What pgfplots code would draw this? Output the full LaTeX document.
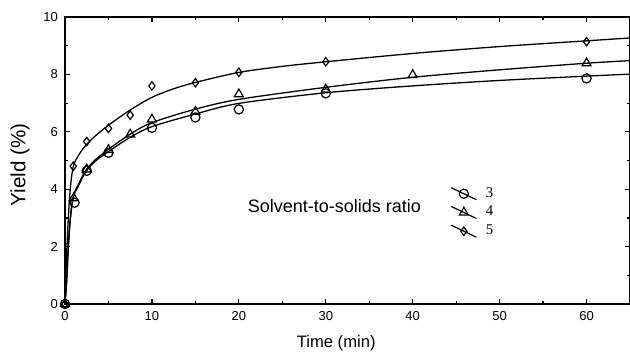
\documentclass[border=0pt]{standalone}
\usepackage{fontspec}
\setmainfont{Liberation Sans}
\newfontfamily\serifnum{Liberation Serif}
\usepackage{pgfplots}
\pgfplotsset{compat=1.18}
\begin{document}
\begin{tikzpicture}
\begin{axis}[
  name=ax,
  scale only axis,
  width=282.5pt, height=143.5pt,
  xmin=0, xmax=65, ymin=0, ymax=10,
  xtick={0,10,...,60}, ytick={0,2,...,10},
  minor xtick={5,15,...,65}, minor ytick={1,3,...,9},
  tick align=inside,
  major tick length=2.5pt, minor tick length=1.5pt,
  every tick/.style={black, line width=0.6pt},
  axis line style={line width=0.75pt},
  tick label style={font=\fontsize{6.5}{8}\selectfont},
  /pgf/number format/assume math mode=true,
  xlabel={Time (min)}, ylabel={Yield (\%)},
  x label style={font=\fontsize{8.3}{10}\selectfont, at={(axis description cs:0.48,-0.136)}, anchor=center},
  y label style={font=\fontsize{10.3}{12}\selectfont, at={(axis description cs:-0.0796,0.484)}, anchor=center},
  legend style={at={(axis description cs:0.682,0.415)}, anchor=north west,
    draw=none, fill=none, inner sep=0pt, font=\serifnum\fontsize{7.4}{8}\selectfont,
    nodes={inner sep=1pt}, row sep=1pt,
    /tikz/every odd column/.append style={column sep=3.5pt}},
  legend cell align=left,
  legend image code/.code={
    \draw[black, line width=0.6pt] (0pt,3pt) -- (12.5pt,-3pt);
    \draw[#1] plot coordinates {(6.25pt,0pt)};
  },
]
% fitted curves
\addplot[black, line width=0.65pt, smooth, forget plot] coordinates {
(0,0) (0.18,0.73) (0.37,1.9) (0.6,2.9) (0.83,3.5) (1.1,3.85) (1.6,4.15) (2,4.4) (2.5,4.65)
(3.5,4.98) (5,5.31) (7.5,5.81) (10,6.18) (15,6.62) (20,6.99) (30,7.36) (40,7.6) (50,7.79) (60,7.94) (65,8.01)};
\addplot[black, line width=0.65pt, smooth, forget plot] coordinates {
(0,0) (0.18,0.75) (0.37,1.95) (0.6,2.95) (0.83,3.55) (1.1,3.9) (1.6,4.2) (2,4.45) (2.5,4.7)
(3.5,5.03) (5,5.39) (7.5,5.92) (10,6.32) (15,6.79) (20,7.13) (30,7.55) (40,7.9) (50,8.16) (60,8.39) (65,8.48)};
\addplot[black, line width=0.65pt, smooth, forget plot] coordinates {
(0,0) (0.1,1.0) (0.2,1.8) (0.35,2.8) (0.5,3.6) (0.7,4.3) (1,4.85) (1.5,5.15) (2,5.38)
(2.5,5.56) (3.5,5.86) (5,6.23) (7.5,6.76) (10,7.2) (12.5,7.5) (15,7.72) (20,8.07) (25,8.28)
(30,8.44) (40,8.73) (50,8.97) (60,9.17) (65,9.27)};
% data
\addplot[only marks, mark=o, mark size=2.3pt, mark options={black, line width=0.6pt}] coordinates {
(0,0) (1.1,3.53) (2.5,4.64) (5,5.27) (10,6.14) (15,6.5) (20,6.78) (30,7.34) (60,7.86)};
\addlegendentry{3}
\addplot[only marks, mark=triangle, mark size=2.6pt, mark options={black, line width=0.6pt}] coordinates {
(0,0) (1,3.69) (2.5,4.69) (5,5.37) (7.5,5.91) (10,6.43) (15,6.7) (20,7.31) (30,7.48) (40,7.98) (60,8.39)};
\addlegendentry{4}
\addplot[only marks, mark=diamond, mark size=2.1pt, mark options={black, line width=0.6pt}] coordinates {
(0,0) (0.95,4.8) (2.5,5.66) (5,6.12) (7.5,6.58) (10,7.6) (15,7.71) (20,8.07) (30,8.44) (60,9.14)};
\addlegendentry{5}
\node[font=\fontsize{9}{10}\selectfont, anchor=center] at (axis cs:31.0,3.41) {Solvent-to-solids ratio};
\end{axis}
\pgfresetboundingbox
\path[use as bounding box] ([xshift=-32.5pt,yshift=-25.5pt]ax.south west) rectangle ([yshift=8.5pt]ax.north east);
\end{tikzpicture}
\end{document}
